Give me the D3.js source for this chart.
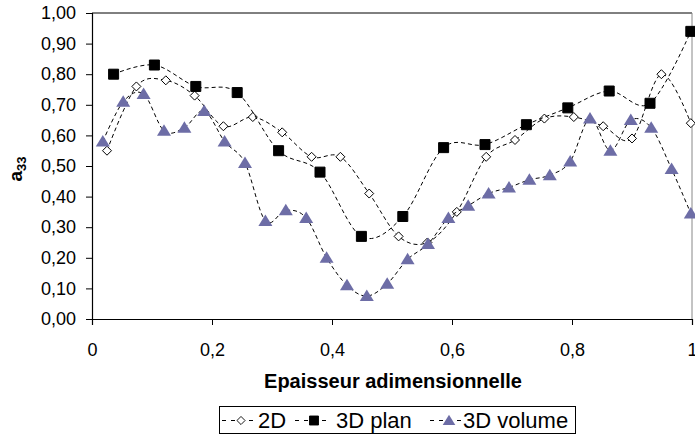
<!DOCTYPE html>
<html>
<head>
<meta charset="utf-8">
<script src="https://cdn.jsdelivr.net/npm/d3@7"></script>
<style>
  body { margin: 0; background: #fff; }
  svg { font-family: Arial, "Liberation Sans", sans-serif; }
</style>
</head>
<body>
<div id="chart"></div>
<script>
/* a33 vs epaisseur adimensionnelle, 3 models */

const series = ["2D", "3D plan", "3D volume"];

const x2D = [0.025, 0.074, 0.123, 0.171, 0.219, 0.268, 0.317, 0.366, 0.414, 0.462, 0.511,
             0.559, 0.608, 0.657, 0.705, 0.754, 0.803, 0.852, 0.900, 0.949, 0.998];
const y2D = [0.55, 0.76, 0.78, 0.73, 0.63, 0.66, 0.61, 0.53, 0.53, 0.41, 0.27,
             0.25, 0.35, 0.53, 0.585, 0.655, 0.66, 0.63, 0.59, 0.80, 0.64];

const xPlan = [0.036, 0.104, 0.173, 0.242, 0.311, 0.380, 0.449, 0.518, 0.586, 0.655,
               0.724, 0.793, 0.862, 0.930, 0.998];
const yPlan = [0.80, 0.83, 0.76, 0.74, 0.55, 0.48, 0.27, 0.335, 0.56, 0.57,
               0.635, 0.69, 0.745, 0.705, 0.94];

const xVol = [0.018, 0.052, 0.086, 0.120, 0.154, 0.187, 0.221, 0.255, 0.289, 0.323,
              0.357, 0.391, 0.425, 0.458, 0.492, 0.526, 0.560, 0.594, 0.627, 0.661,
              0.695, 0.729, 0.763, 0.797, 0.830, 0.864, 0.898, 0.932, 0.966, 0.998];
const yVol = [0.58, 0.71, 0.735, 0.615, 0.625, 0.68, 0.58, 0.51, 0.32, 0.355,
              0.33, 0.20, 0.11, 0.075, 0.115, 0.195, 0.245, 0.33, 0.37, 0.41,
              0.43, 0.455, 0.47, 0.515, 0.655, 0.55, 0.65, 0.625, 0.49, 0.345];

const yTicks = [0, 0.1, 0.2, 0.3, 0.4, 0.5, 0.6, 0.7, 0.8, 0.9, 1];
const xTicks = [0, 0.2, 0.4, 0.6, 0.8, 1];

const height = 436,
      width = 695,
      margin = ({top: 13, right: 3, bottom: 117, left: 92});

const comma = s => s.replace(".", ",");

let svg = d3.select("#chart")
    .append("svg")
    .attr("width", width)
    .attr("height", height)
    .attr("viewBox", [0, 0, width, height]);

let x = d3.scaleLinear()
    .domain([0, 1])
    .range([margin.left, width - margin.right]);

let y = d3.scaleLinear()
    .domain([0, 1])
    .range([height - margin.bottom, margin.top]);

// plot frame: top black, right grey
svg.append("line")
    .attr("x1", x(0)).attr("x2", x(1))
    .attr("y1", y(1)).attr("y2", y(1))
    .attr("stroke", "#000");
svg.append("line")
    .attr("x1", x(1)).attr("x2", x(1))
    .attr("y1", y(1)).attr("y2", y(0))
    .attr("stroke", "#888");

let yAxis = svg.append("g")
    .attr("transform", `translate(${x(0)},0)`)
    .call(d3.axisLeft(y).tickValues(yTicks).tickSize(6).tickPadding(10)
        .tickFormat(d => comma(d3.format(".2f")(d))));

let xAxis = svg.append("g")
    .attr("transform", `translate(0,${y(0)})`)
    .call(d3.axisBottom(x).tickValues(xTicks).tickSize(6).tickPadding(18)
        .tickFormat(d => comma(String(d))));

for (let ax of [xAxis, yAxis]) {
    ax.select(".domain").attr("stroke", "#000").attr("stroke-width", 1.2);
    ax.selectAll(".tick line").attr("stroke", "#000");
    ax.selectAll("text")
        .attr("font-family", "Arial, 'Liberation Sans', sans-serif")
        .attr("font-size", 18)
        .attr("fill", "#000");
}

// axis titles
svg.append("text")
    .attr("x", 393)
    .attr("y", 388)
    .attr("text-anchor", "middle")
    .attr("font-weight", "bold")
    .attr("font-size", 20)
    .text("Epaisseur adimensionnelle");

let yTitle = svg.append("text")
    .attr("transform", "translate(22,169) rotate(-90)")
    .attr("text-anchor", "middle")
    .attr("font-weight", "bold")
    .attr("font-size", 19);
yTitle.append("tspan").text("a");
yTitle.append("tspan").attr("font-size", 13).attr("dy", 4).text("33");

// lines + markers
const diamond = "M0,-4.5L4.5,0L0,4.5L-4.5,0Z";
const square = "M-5,-5H5V5H-5Z";
const triangle = "M0,-6.5L7,5H-7Z";
const volColor = "#6d6da6";

const data = [
    {name: series[0], xs: x2D, ys: y2D, path: diamond, fill: "#fff", stroke: "#000"},
    {name: series[1], xs: xPlan, ys: yPlan, path: square, fill: "#000", stroke: "#000"},
    {name: series[2], xs: xVol, ys: yVol, path: triangle, fill: volColor, stroke: "none"}
];

let line = d3.line()
    .x(d => x(d[0]))
    .y(d => y(d[1]))
    .curve(d3.curveCatmullRom.alpha(0));

let g = svg.selectAll(".series")
    .data(data)
    .join("g")
    .attr("class", "series");

g.append("path")
    .attr("d", d => line(d.xs.map((v, i) => [v, d.ys[i]])))
    .attr("fill", "none")
    .attr("stroke", "#000")
    .attr("stroke-width", 1)
    .attr("stroke-dasharray", "4,3");

g.each(function(d) {
    d3.select(this).selectAll(".pt")
        .data(d.xs.map((v, i) => [v, d.ys[i]]))
        .join("path")
        .attr("class", "pt")
        .attr("d", d.path)
        .attr("transform", p => `translate(${x(p[0])},${y(p[1])})`)
        .attr("fill", d.fill)
        .attr("stroke", d.stroke);
});

// legend
let legend = svg.append("g");
legend.append("rect")
    .attr("x", 219.5).attr("y", 406.5)
    .attr("width", 356).attr("height", 27)
    .attr("fill", "#fff")
    .attr("stroke", "#000");

const legendX = [222, 295, 430];
const legendTextX = [258, 336, 463];

data.forEach((d, i) => {
    let lg = legend.append("g");
    lg.append("line")
        .attr("x1", legendX[i]).attr("x2", legendX[i] + 33)
        .attr("y1", 420.5).attr("y2", 420.5)
        .attr("stroke", "#000")
        .attr("stroke-dasharray", "4,5");
    lg.append("path")
        .attr("d", d.path)
        .attr("transform", `translate(${legendX[i] + 19},420.5) scale(0.9)`)
        .attr("fill", d.fill)
        .attr("stroke", d.stroke);
    lg.append("text")
        .attr("x", legendTextX[i])
        .attr("y", 428)
        .attr("font-size", 22)
        .text(d.name);
});
</script>
</body>
</html>
